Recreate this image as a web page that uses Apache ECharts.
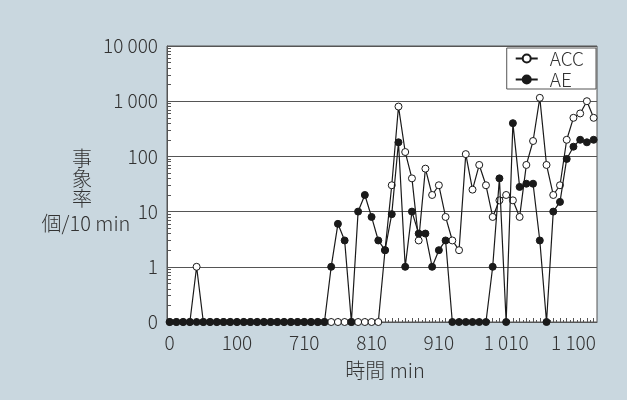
<!DOCTYPE html>
<html>
<head>
<meta charset="utf-8">
<script src="https://cdn.jsdelivr.net/npm/echarts@6/dist/echarts.min.js"></script>
<style>
  html, body { margin: 0; padding: 0; background: #c9d7df; }
  #chart { width: 627px; height: 400px; }
</style>
</head>
<body>
<div id="chart"></div>
<script>
// Event rates per 10 min interval (one value per sampling slot)
const xTickLabels = ['0', '100', '710', '810', '910', '1 010', '1 100'];
const yTickLabels = ['0', '1', '10', '100', '1 000', '10 000'];

const acc = [
  0, 0, 0, 0, 1, 0, 0, 0, 0, 0,
  0, 0, 0, 0, 0, 0, 0, 0, 0, 0,
  0, 0, 0, 0, 0, 0, 0, 0, 0, 0,
  0, 0, 2, 30, 800, 120, 40, 3, 60, 20,
  30, 8, 3, 2, 110, 25, 70, 30, 8, 16,
  20, 16, 8, 70, 190, 1150, 70, 20, 30, 200,
  500, 600, 1000, 500
];

const ae = [
  0, 0, 0, 0, 0, 0, 0, 0, 0, 0,
  0, 0, 0, 0, 0, 0, 0, 0, 0, 0,
  0, 0, 0, 0, 1, 6, 3, 0, 10, 20,
  8, 3, 2, 9, 180, 1, 10, 4, 4, 1,
  2, 3, 0, 0, 0, 0, 0, 0, 1, 40,
  0, 400, 28, 32, 32, 3, 0, 10, 15, 90,
  150, 200, 180, 200
];

// Zero counts sit on the floor of the log scale (labelled "0")
const ZERO_LEVEL = 0.1;
const toPoints = arr => arr.map((v, i) => [i, v === 0 ? ZERO_LEVEL : v]);

const ink = '#1a1a1a';
const frame = '#555555';
const textColor = '#333333';
const font = '"Noto Sans CJK JP", "Noto Sans", sans-serif';

// Minor log ticks (2..9 within each decade), in exponent units
const minorLogTicks = [];
for (let d = -1; d < 4; d++) {
  for (let k = 2; k <= 9; k++) minorLogTicks.push(d + Math.log10(k));
}
const intTicks = acc.map((_, i) => i);
const halfTicks = acc.slice(0, -1).map((_, i) => i + 0.5);
const labelTicks = xTickLabels.map((_, i) => i * 10);

const chart = echarts.init(document.getElementById('chart'), null, { renderer: 'canvas' });

chart.setOption({
  backgroundColor: '#c9d7df',
  animation: false,
  textStyle: { fontFamily: font, fontWeight: 300 },
  grid: {
    left: 167, right: 30, top: 46, bottom: 78,
    show: true, backgroundColor: '#ffffff',
    borderColor: frame, borderWidth: 1
  },
  legend: {
    orient: 'vertical',
    right: 31, top: 48,
    backgroundColor: '#ffffff',
    borderColor: frame, borderWidth: 1,
    padding: [1, 12, 0, 8],
    itemGap: 2,
    itemWidth: 22, itemHeight: 10,
    textStyle: { fontSize: 19, fontWeight: 300, color: textColor, fontFamily: font, padding: [0, 0, 0, 7] },
    data: ['ACC', 'AE']
  },
  xAxis: [
    {
      type: 'value',
      min: -0.4, max: 63.5,
      name: '時間 min',
      nameLocation: 'middle',
      nameGap: 38,
      nameTextStyle: { fontSize: 20, fontWeight: 300, color: textColor, fontFamily: font, padding: [0, 0, 0, 6] },
      axisLine: { show: true, onZero: false, lineStyle: { color: frame, width: 1 } },
      axisTick: { show: true, inside: true, length: 4, customValues: intTicks, lineStyle: { color: frame } },
      splitLine: { show: false },
      axisLabel: {
        customValues: labelTicks,
        fontSize: 19, fontWeight: 300, color: textColor, margin: 11, fontFamily: font,
        formatter: v => xTickLabels[Math.round(v / 10)]
      }
    },
    {
      type: 'value',
      min: -0.4, max: 63.5,
      position: 'bottom',
      axisLine: { show: false, onZero: false },
      axisTick: { show: true, inside: true, length: 2, customValues: halfTicks, lineStyle: { color: frame } },
      axisLabel: { show: false },
      splitLine: { show: false }
    }
  ],
  yAxis: [
    {
      type: 'log',
      logBase: 10,
      min: ZERO_LEVEL, max: 10000,
      axisLine: { show: true, onZero: false, lineStyle: { color: frame, width: 1 } },
      axisTick: { show: false },
      splitLine: { show: true, lineStyle: { color: frame, width: 1 } },
      axisLabel: {
        fontSize: 19, fontWeight: 300, color: textColor, margin: 9, fontFamily: font,
        formatter: v => {
          const e = Math.round(Math.log10(v));
          return yTickLabels[e + 1];
        }
      }
    },
    {
      type: 'value',
      min: -1, max: 4,
      position: 'left',
      axisLine: { show: false, onZero: false },
      axisTick: { show: true, inside: true, length: 4, customValues: minorLogTicks, lineStyle: { color: frame } },
      axisLabel: { show: false },
      splitLine: { show: false }
    }
  ],
  graphic: [
    {
      type: 'text', x: 82, y: 148,
      style: { text: '事\n象\n率', font: '300 20px ' + font, fill: textColor, lineHeight: 20, align: 'center' }
    },
    {
      type: 'text', x: 86, y: 213,
      style: { text: '個/10 min', font: '300 20px ' + font, fill: textColor, align: 'center' }
    }
  ],
  series: [
    {
      name: 'ACC',
      type: 'line',
      xAxisIndex: 0, yAxisIndex: 0,
      data: toPoints(acc),
      symbol: 'circle', symbolSize: 7,
      lineStyle: { color: ink, width: 1.2 },
      itemStyle: { color: '#ffffff', borderColor: ink, borderWidth: 1 },
      z: 3
    },
    {
      name: 'AE',
      type: 'line',
      xAxisIndex: 0, yAxisIndex: 0,
      data: toPoints(ae),
      symbol: 'circle', symbolSize: 7,
      lineStyle: { color: ink, width: 1.2 },
      itemStyle: { color: ink, borderColor: ink, borderWidth: 1 },
      z: 4
    }
  ]
});
</script>
</body>
</html>
